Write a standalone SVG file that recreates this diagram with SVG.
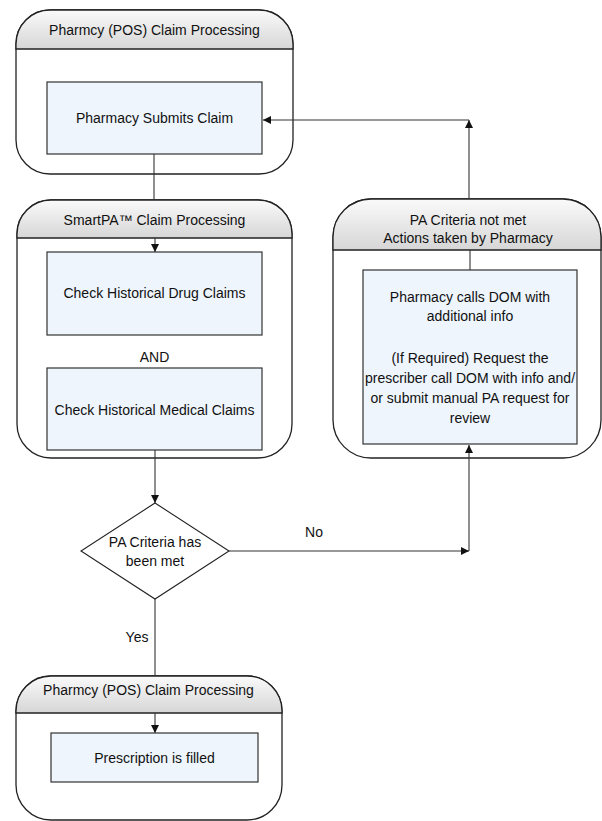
<svg xmlns="http://www.w3.org/2000/svg" width="602" height="821" viewBox="0 0 602 821">
<style>
text{font-family:"Liberation Sans",Arial,sans-serif;font-size:14px;fill:#111;text-anchor:middle}
.cont{fill:#fff;stroke:#222;stroke-width:1.3}
.hdr{fill:url(#g);stroke:#222;stroke-width:1.3}
.box{fill:#eef5fd;stroke:#333;stroke-width:1.2}
.c{fill:none;stroke:#333;stroke-width:1.1}
.dia{fill:#fff;stroke:#222;stroke-width:1.1}
</style>
<defs>
<linearGradient id="g" x1="0" y1="0" x2="0" y2="1">
<stop offset="0" stop-color="#fafafa"/>
<stop offset="1" stop-color="#d6d6d6"/>
</linearGradient>
<marker id="a" viewBox="0 0 10 10" refX="10" refY="5" markerWidth="8" markerHeight="8" markerUnits="userSpaceOnUse" orient="auto">
<path d="M0,0 L10,5 L0,10 z" fill="#111"/>
</marker>
</defs>

<g id="pos-top">
<rect class="cont" x="16" y="10" width="277" height="164" rx="34" ry="34"/>
<path class="hdr" d="M16,49 V44 A34,34 0 0 1 50,10 H259 A34,34 0 0 1 293,44 V49 Z"/>
<text x="154.5" y="35">Pharmcy (POS) Claim Processing</text>
</g>
<g id="submit-claim">
<rect class="box" x="47" y="82" width="215" height="72"/>
<text x="154.5" y="123">Pharmacy Submits Claim</text>
</g>

<g id="smartpa">
<rect class="cont" x="17" y="200" width="275" height="258" rx="34" ry="34"/>
<path class="hdr" d="M17,238 V234 A34,34 0 0 1 51,200 H258 A34,34 0 0 1 292,234 V238 Z"/>
<text x="154.5" y="225">SmartPA™ Claim Processing</text>
<line class="c" x1="155" y1="238" x2="155" y2="252" marker-end="url(#a)"/>
</g>
<g id="drug-claims">
<rect class="box" x="47" y="252" width="215" height="83"/>
<text x="154.5" y="298">Check Historical Drug Claims</text>
</g>
<text x="154.5" y="362">AND</text>
<g id="medical-claims">
<rect class="box" x="47" y="368" width="215" height="82"/>
<text x="154.5" y="415">Check Historical Medical Claims</text>
</g>

<g id="decision">
<polygon class="dia" points="155,503 229,551 155,599 81,551"/>
<text x="155" y="547">PA Criteria has</text>
<text x="155" y="566">been met</text>
</g>
<text x="314" y="537">No</text>
<text x="137" y="642">Yes</text>

<g id="not-met">
<rect class="cont" x="333" y="199" width="268" height="259" rx="38" ry="38"/>
<path class="hdr" d="M333,250 V237 A38,38 0 0 1 371,199 H563 A38,38 0 0 1 601,237 V250 Z"/>
<text x="468" y="225">PA Criteria not met</text>
<text x="468" y="243">Actions taken by Pharmacy</text>
<line class="c" x1="470" y1="250" x2="470" y2="270"/>
</g>
<g id="pharmacy-actions">
<rect class="box" x="363" y="270" width="214" height="174"/>
<text x="470" y="302">Pharmacy calls DOM with</text>
<text x="470" y="321">additional info</text>
<text x="470" y="363">(If Required) Request the</text>
<text x="470" y="383">prescriber call DOM with info and/</text>
<text x="470" y="403">or submit manual PA request for</text>
<text x="470" y="423">review</text>
</g>

<g id="pos-bottom">
<rect class="cont" x="16" y="676" width="266" height="144" rx="35" ry="35"/>
<path class="hdr" d="M16,713 V711 A35,35 0 0 1 51,676 H247 A35,35 0 0 1 282,711 V713 Z"/>
<text x="148.5" y="695">Pharmcy (POS) Claim Processing</text>
<line class="c" x1="155" y1="713" x2="155" y2="733" marker-end="url(#a)"/>
</g>
<g id="filled">
<rect class="box" x="51" y="733" width="207" height="49"/>
<text x="154.5" y="763">Prescription is filled</text>
</g>

<g id="connectors">
<line class="c" x1="154" y1="154" x2="154" y2="200"/>
<line class="c" x1="155" y1="450" x2="155" y2="503" marker-end="url(#a)"/>
<line class="c" x1="229" y1="551" x2="469" y2="551" marker-end="url(#a)"/>
<line class="c" x1="469" y1="551" x2="469" y2="445" marker-end="url(#a)"/>
<line class="c" x1="469" y1="199" x2="469" y2="120" marker-end="url(#a)"/>
<line class="c" x1="469" y1="120" x2="263" y2="120" marker-end="url(#a)"/>
<line class="c" x1="155" y1="599" x2="155" y2="676"/>
</g>
</svg>
